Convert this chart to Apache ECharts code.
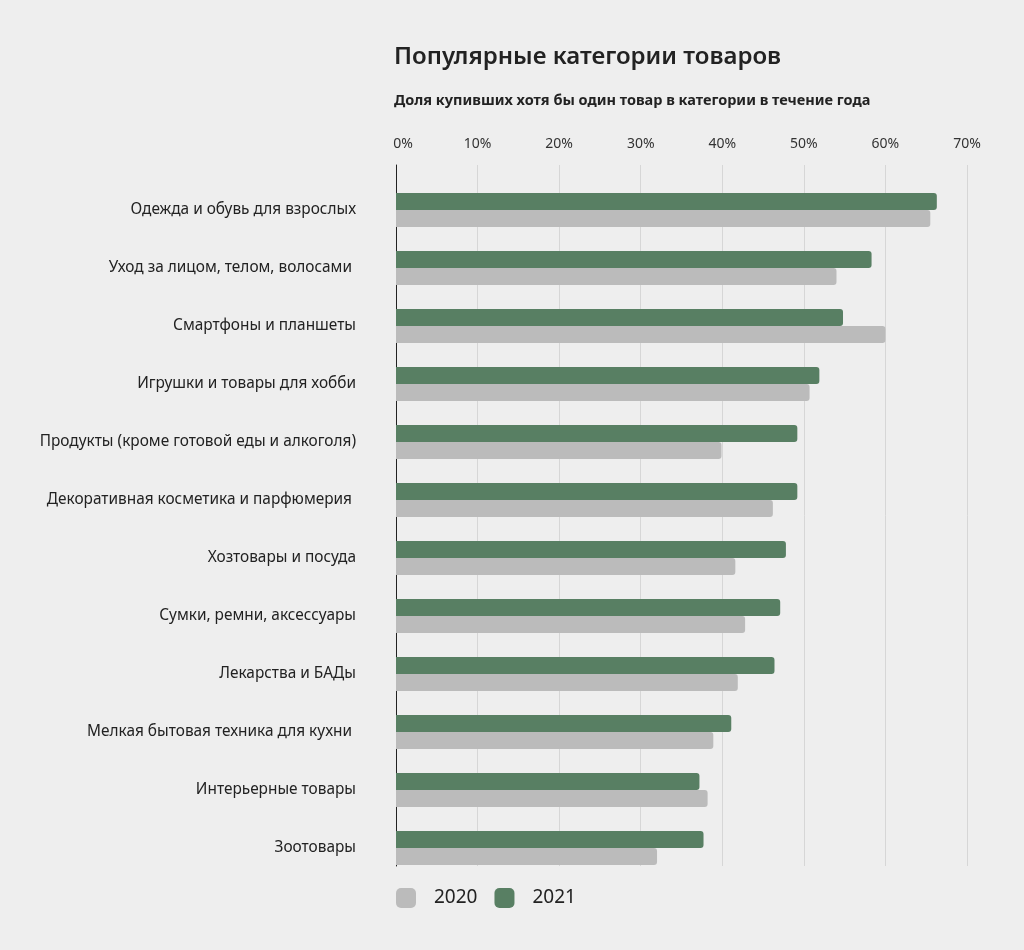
<!DOCTYPE html>
<html><head><meta charset="utf-8">
<script src="https://cdn.jsdelivr.net/npm/echarts@6/dist/echarts.min.js"></script>
<style>html,body{margin:0;padding:0;background:#eeeeee}#c{width:1024px;height:950px}</style>
</head><body><div id="c"></div>
<script>
const categories = [
  'Одежда и обувь для взрослых',
  'Уход за лицом, телом, волосами ',
  'Смартфоны и планшеты',
  'Игрушки и товары для хобби',
  'Продукты (кроме готовой еды и алкоголя)',
  'Декоративная косметика и парфюмерия ',
  'Хозтовары и посуда',
  'Сумки, ремни, аксессуары',
  'Лекарства и БАДы',
  'Мелкая бытовая техника для кухни ',
  'Интерьерные товары',
  'Зоотовары'
];
const values2020 = [65.5, 54.0, 60.0, 50.7, 39.9, 46.2, 41.6, 42.8, 41.9, 38.9, 38.2, 32.0];
const values2021 = [66.3, 58.3, 54.8, 51.9, 49.2, 49.2, 47.8, 47.1, 46.4, 41.1, 37.2, 37.7];
const xTicks = [0, 10, 20, 30, 40, 50, 60, 70];
const titleText = 'Популярные категории товаров';
const subtitleText = 'Доля купивших хотя бы один товар в категории в течение года';

const FONT = '"Noto Sans", "Open Sans", sans-serif';
const chart = echarts.init(document.getElementById('c'));
chart.setOption({
  backgroundColor: '#eeeeee',
  animation: false,
  textStyle: { fontFamily: FONT },
  title: [
    { text: titleText, left: 389, top: 40, textStyle: { fontFamily: FONT, fontSize: 24, fontWeight: 600, color: '#222' } },
    { text: subtitleText, left: 389, top: 88, textStyle: { fontFamily: FONT, fontSize: 14.5, fontWeight: 'bold', color: '#222' } }
  ],
  legend: {
    left: 396, top: 888, itemWidth: 20, itemHeight: 20, itemGap: 17, padding: 0,
    data: ['2020', '2021'],
    icon: 'roundRect',
    textStyle: { fontFamily: FONT, fontSize: 19, color: '#222', padding: [0, 0, 0, 13] }
  },
  grid: [
    { left: 396, right: 57, top: 181, height: 696 },
    { left: 396, right: 57, top: 165, height: 701 }
  ],
  xAxis: [
    { type: 'value', gridIndex: 0, min: 0, max: 70, interval: 10, show: false },
    { type: 'value', gridIndex: 1, min: 0, max: 70, interval: 10, position: 'top',
      axisLine: { show: false }, axisTick: { show: false },
      splitLine: { show: true, lineStyle: { color: '#d6d6d6', width: 1 } },
      axisLabel: { margin: 14, fontSize: 14, color: '#333', fontFamily: FONT,
        formatter: v => v === 0 ? '{first|0%}' : (xTicks.includes(v) ? v + '%' : ''),
        rich: { first: { fontSize: 14, color: '#333', fontFamily: FONT, padding: [0, 0, 0, 14] } } } }
  ],
  yAxis: [
    { type: 'category', gridIndex: 0, data: categories, inverse: true,
      axisLine: { show: false }, axisTick: { show: false }, splitLine: { show: false },
      axisLabel: { margin: 40, fontSize: 15.4, color: '#222', fontFamily: FONT } },
    { type: 'category', gridIndex: 1, data: [''],
      axisLine: { show: true, lineStyle: { color: '#222', width: 1 } },
      axisTick: { show: false }, axisLabel: { show: false }, splitLine: { show: false } }
  ],
  series: [
    { name: '2021', type: 'bar', xAxisIndex: 0, yAxisIndex: 0, data: values2021,
      barWidth: 17, barGap: '0%', itemStyle: { color: '#587f63', borderRadius: [0, 3, 3, 0] } },
    { name: '2020', type: 'bar', xAxisIndex: 0, yAxisIndex: 0, data: values2020,
      barWidth: 17, barGap: '0%', itemStyle: { color: '#bbbbbb', borderRadius: [0, 3, 3, 0] } }
  ]
});
</script></body></html>
